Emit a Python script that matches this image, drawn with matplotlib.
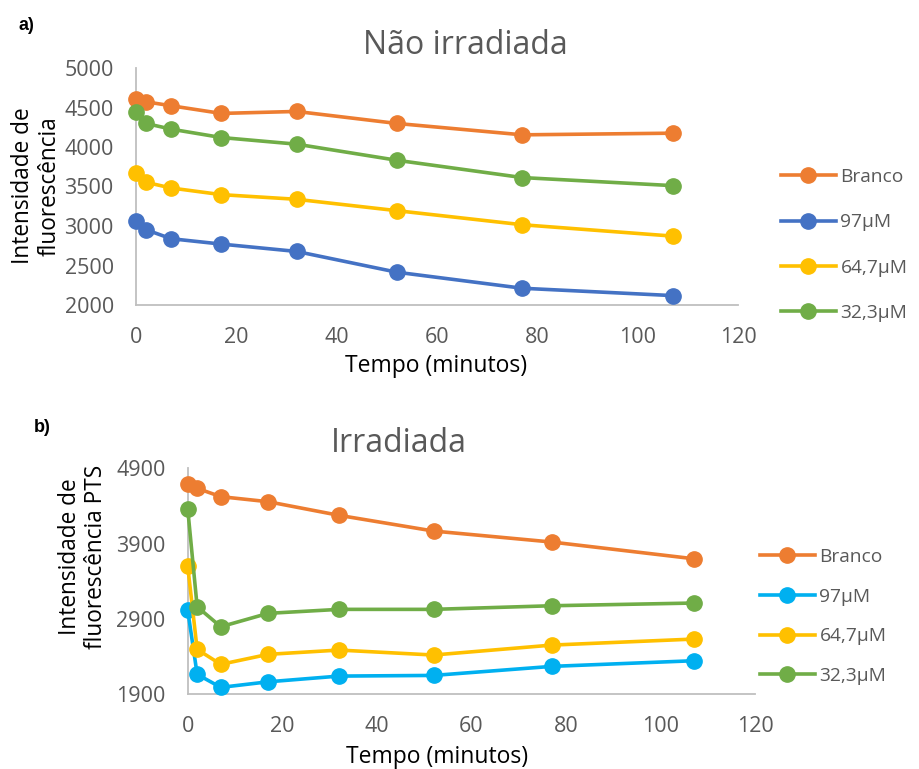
import matplotlib
matplotlib.use("Agg")
import matplotlib.pyplot as plt

plt.rcParams['font.family'] = ['Open Sans', 'DejaVu Sans']

# Time points (minutes)
tempo = [0, 2, 7, 17, 32, 52, 77, 107]
series_names = ["Branco", "97µM", "64,7µM", "32,3µM"]

# a) Não irradiada
nao_branco = [4610, 4572, 4522, 4425, 4450, 4298, 4154, 4175]
nao_97 = [3062, 2953, 2839, 2771, 2678, 2415, 2212, 2119]
nao_647 = [3668, 3553, 3481, 3397, 3338, 3194, 3016, 2872]
nao_323 = [4446, 4298, 4226, 4120, 4036, 3832, 3613, 3511]

# b) Irradiada
irr_branco = [4691, 4634, 4523, 4456, 4275, 4066, 3920, 3698]
irr_97 = [3016, 2161, 1988, 2062, 2138, 2147, 2267, 2342]
irr_647 = [3601, 2493, 2294, 2427, 2484, 2418, 2550, 2630]
irr_323 = [4363, 3060, 2794, 2972, 3025, 3025, 3073, 3109]

top_colors = ["#ED7D31", "#4472C4", "#FFC000", "#70AD47"]
bot_colors = ["#ED7D31", "#00B0F0", "#FFC000", "#70AD47"]

xticks = [0, 20, 40, 60, 80, 100, 120]
yticks_a = [2000, 2500, 3000, 3500, 4000, 4500, 5000]
yticks_b = [1900, 2900, 3900, 4900]

W, H = 919, 769
fig = plt.figure(figsize=(W / 100, H / 100), dpi=100)


def px_axes(left, top, right, bottom):
    return fig.add_axes([left / W, 1 - bottom / H, (right - left) / W, (bottom - top) / H])


def style(ax, ylim, yticks):
    ax.set_xlim(0, 120)
    ax.set_ylim(*ylim)
    ax.set_xticks(xticks)
    ax.set_yticks(yticks)
    for s in ("top", "right"):
        ax.spines[s].set_visible(False)
    for s in ("left", "bottom"):
        ax.spines[s].set_color("#BFBFBF")
        ax.spines[s].set_linewidth(1.3)
    ax.tick_params(length=0, labelsize=15.5, colors="#595959")
    ax.tick_params(axis="x", pad=16)
    ax.tick_params(axis="y", pad=16)
    ax.patch.set_alpha(0)


def draw(ax, data, colors):
    handles = []
    for vals, c, name in zip(data, colors, series_names):
        h, = ax.plot(tempo, vals, color=c, lw=2.6, marker="o", ms=11,
                     label=name, clip_on=False, zorder=3)
        handles.append(h)
    return handles


def legend(handles, x, yc, spacing):
    leg = fig.legend(handles=handles, loc="center left", bbox_to_anchor=(x / W, 1 - yc / H),
                     frameon=False, fontsize=13.8, handlelength=2.85, handletextpad=0.25,
                     labelspacing=spacing, borderaxespad=0, borderpad=0)
    for t in leg.get_texts():
        t.set_color("#595959")
    return leg


# ---- a) ----
ax1 = px_axes(136, 68, 738, 305)
style(ax1, (2000, 5000), yticks_a)
h1 = draw(ax1, [nao_branco, nao_97, nao_647, nao_323], top_colors)
fig.text(465 / W, 1 - 45 / H, "Não irradiada", fontsize=23,
         color="#595959", ha="center", va="center")
fig.text(436 / W, 1 - 366 / H, "Tempo (minutos)", fontsize=16.5,
         color="black", ha="center", va="center")
fig.text(36 / W, 1 - 186 / H, "Intensidade de\nfluorescência", fontsize=16.3,
         rotation=90, color="black", ha="center", va="center", linespacing=1.15)
fig.text(26 / W, 1 - 25 / H, "a)", fontsize=13, fontweight="bold",
         family="Liberation Sans", ha="center", va="center")
legend(h1, 781, 245, 1.42)

# ---- b) ----
ax2 = px_axes(187.7, 468.3, 755, 694)
style(ax2, (1900, 4900), yticks_b)
h2 = draw(ax2, [irr_branco, irr_97, irr_647, irr_323], bot_colors)
fig.text(399 / W, 1 - 443 / H, "Irradiada", fontsize=23,
         color="#595959", ha="center", va="center")
fig.text(437 / W, 1 - 757 / H, "Tempo (minutos)", fontsize=16.5,
         color="black", ha="center", va="center")
fig.text(83 / W, 1 - 557 / H, "Intensidade de\nfluorescência PTS", fontsize=16.3,
         rotation=90, color="black", ha="center", va="center", linespacing=1.15)
fig.text(42 / W, 1 - 428 / H, "b)", fontsize=13, fontweight="bold",
         family="Liberation Sans", ha="center", va="center")
legend(h2, 760, 616.5, 1.13)

fig.savefig("out.png", dpi=100, facecolor="white")
